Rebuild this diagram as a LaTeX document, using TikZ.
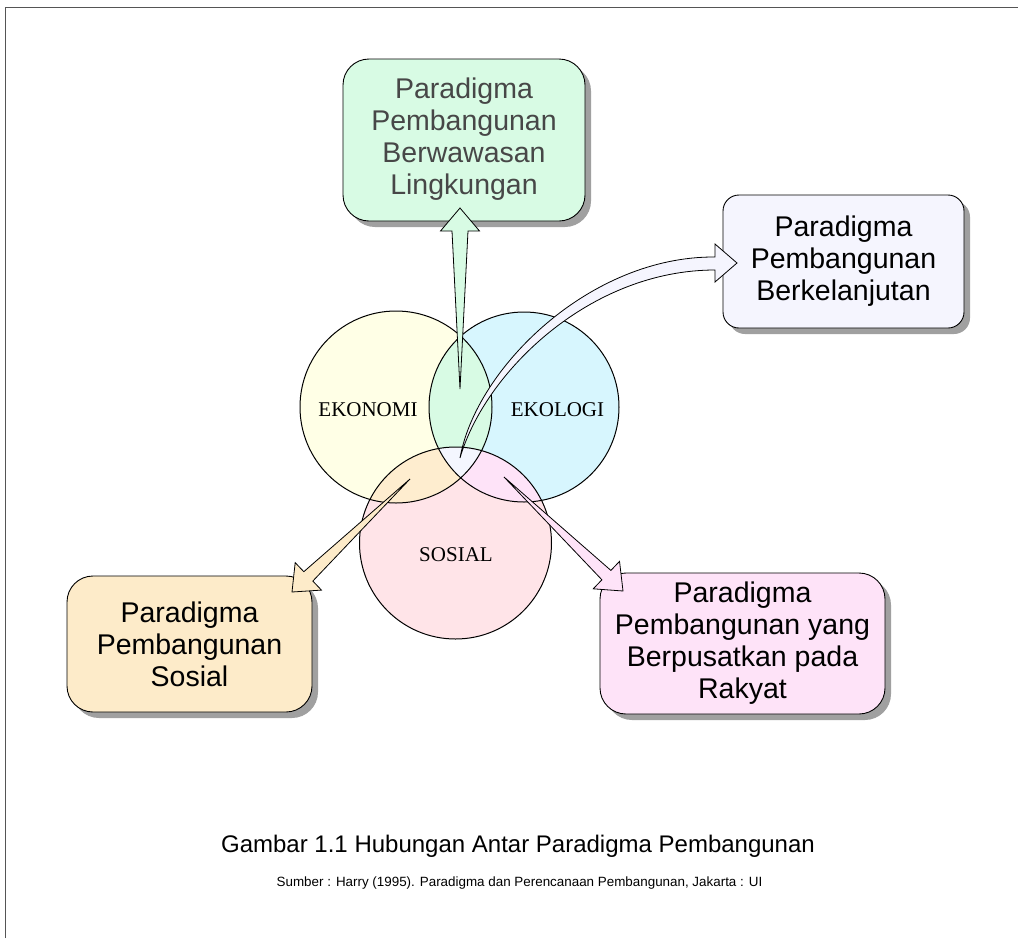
\documentclass[tikz,border=0pt]{standalone}
\usepackage{fontspec}
\setmainfont{Liberation Sans}
\newfontfamily\circfont{Liberation Serif}
\usetikzlibrary{calc,shadows}
\definecolor{ekoc}{HTML}{FFFFE6}
\definecolor{ekolc}{HTML}{D7F6FE}
\definecolor{sosc}{HTML}{FFE4E8}
\definecolor{greenc}{HTML}{D8FBE4}
\definecolor{orangec}{HTML}{FEEDCF}
\definecolor{pinkc}{HTML}{FEE3F8}
\definecolor{allc}{HTML}{F4F6FE}
\definecolor{lavc}{HTML}{F5F5FE}
\definecolor{boxorange}{HTML}{FDEBC9}
\definecolor{shadowc}{HTML}{A0A0A0}
\definecolor{framec}{HTML}{555555}
\newcommand\taperarrow[6]{%
  \coordinate (#2-base) at ($(#2)!#3!(#1)$);
  \draw[arrowline, fill=#6] (#1) -- ($(#2-base)!#5!90:(#2)$) -- ($(#2-base)!#4!90:(#2)$) -- (#2)
    -- ($(#2-base)!#4!-90:(#2)$) -- ($(#2-base)!#5!-90:(#2)$) -- cycle;}
\begin{document}
\begin{tikzpicture}[x=1pt,y=-1pt,
  pbox/.style={draw=black, line width=0.9pt, rounded corners=26pt, align=center, inner sep=0pt,
    font=\fontsize{28.5}{32}\selectfont,
    drop shadow={shadow xshift=6pt, shadow yshift=-6pt, fill=shadowc, opacity=1}},
  clabel/.style={font=\circfont\fontsize{21}{24}\selectfont, inner sep=0pt},
  arrowline/.style={draw=black, line width=0.8pt, line join=miter},
  circline/.style={draw=black, line width=1pt}]
\useasboundingbox (0,0) rectangle (1018,938);
\fill[white] (0,0) rectangle (1018,938);
\draw[framec, line width=1pt] (5,938) -- (5,7) -- (1018,7);

% boxes
\node[pbox, fill=greenc, text=black!72, minimum width=242pt, minimum height=162pt] (top) at (464,140)
  {\raisebox{-2pt}{\begin{tabular}{@{}c@{}}Paradigma\\Pembangunan\\Berwawasan\\Lingkungan\end{tabular}}};
\node[pbox, rounded corners=16pt, fill=lavc, minimum width=241pt, minimum height=133pt] (right) at (843.5,261.5)
  {Paradigma\\Pembangunan\\Berkelanjutan};
\node[pbox, fill=boxorange, minimum width=245pt, minimum height=136pt] (left) at (189.5,644)
  {Paradigma\\Pembangunan\\Sosial};
\node[pbox, fill=pinkc, minimum width=285pt, minimum height=141pt] (people) at (742.5,643.5)
  {Paradigma\\Pembangunan yang\\Berpusatkan pada\\Rakyat};

% circles
\coordinate (cA) at (396,407);
\coordinate (cB) at (524,407);
\coordinate (cC) at (455.5,543);
\fill[ekoc] (cA) circle[radius=96pt];
\fill[ekolc] (cB) circle[radius=95pt];
\fill[sosc] (cC) circle[radius=96pt];
\begin{scope}
  \clip (cA) circle[radius=96pt];
  \fill[greenc] (cB) circle[radius=95pt];
  \fill[orangec] (cC) circle[radius=96pt];
\end{scope}
\begin{scope}
  \clip (cB) circle[radius=95pt];
  \fill[pinkc] (cC) circle[radius=96pt];
\end{scope}
\begin{scope}
  \clip (cA) circle[radius=96pt];
  \clip (cB) circle[radius=95pt];
  \fill[allc] (cC) circle[radius=96pt];
\end{scope}
\draw[circline] (cA) circle[radius=96pt];
\draw[circline] (cB) circle[radius=95pt];
\draw[circline] (cC) circle[radius=96pt];
\node[clabel] (ekonomi) at (368,410) {EKONOMI};
\node[clabel] (ekologi) at (557.5,410) {EKOLOGI};
\node[clabel] (sosial) at (456,555) {SOSIAL};

% arrows
\coordinate (tailT) at (460,389);
\coordinate (tipT) at (460,208);
\coordinate (tailL) at (410,479);
\coordinate (tipL) at (292,592);
\coordinate (tailR) at (504,477);
\coordinate (tipR) at (623,591);
\coordinate (tailC) at (460,458);
\coordinate (tipC) at (737,263);
\taperarrow{tailT}{tipT}{23pt}{19.5pt}{8pt}{greenc}
\taperarrow{tailL}{tipL}{22.6pt}{19pt}{6.5pt}{boxorange}
\taperarrow{tailR}{tipR}{23pt}{19pt}{6.5pt}{pinkc}
\draw[arrowline, fill=lavc] (tailC) .. controls (476,368) and (590,256) .. (715,257)
  -- (715,244) -- (tipC) -- (715,282) -- (715,270)
  .. controls (590,270) and (485,372) .. (tailC) -- cycle;

% caption
\node[anchor=base, inner sep=0pt, font=\fontsize{24}{27}\selectfont] (caption) at (518,852)
  {Gambar 1.1 Hubungan Antar Paradigma Pembangunan};
\node[anchor=base, inner sep=0pt, font=\fontsize{13.4}{15}\selectfont] (source) at (519.5,886)
  {Sumber : Harry (1995). Paradigma dan Perencanaan Pembangunan, Jakarta : UI};
\end{tikzpicture}
\end{document}
